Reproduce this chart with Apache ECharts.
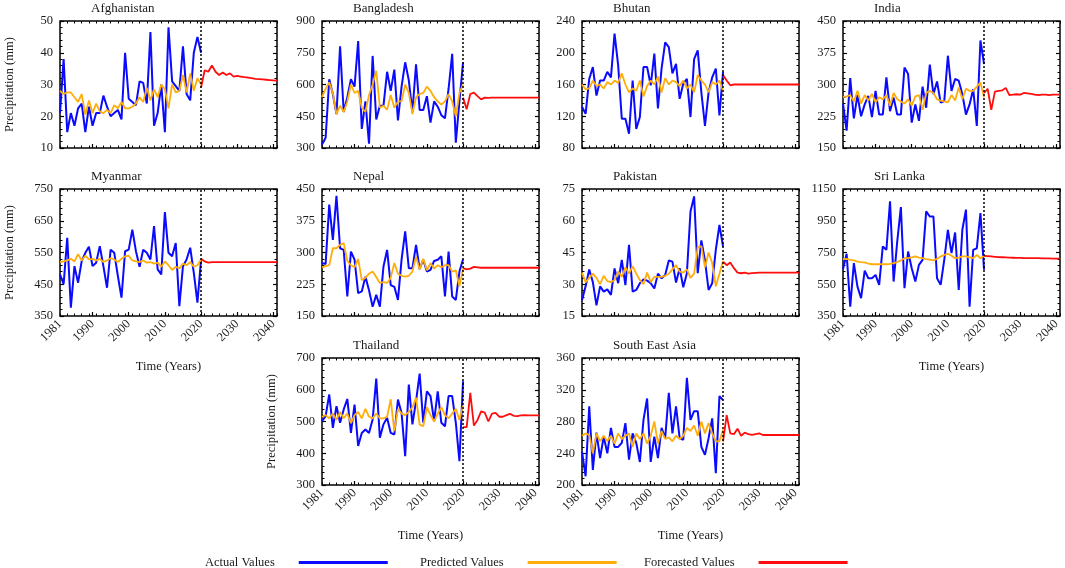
<!DOCTYPE html>
<html>
<head>
<meta charset="utf-8">
<script src="https://cdn.jsdelivr.net/npm/echarts@6/dist/echarts.min.js"></script>
<style>
html, body { margin: 0; padding: 0; background: #fff; }
#main { width: 1065px; height: 568px; }
</style>
</head>
<body>
<div id="main"></div>
<script>
// years
var actualYears = [1981,1982,1983,1984,1985,1986,1987,1988,1989,1990,1991,1992,1993,1994,1995,1996,1997,1998,1999,2000,
                   2001,2002,2003,2004,2005,2006,2007,2008,2009,2010,2011,2012,2013,2014,2015,2016,2017,2018,2019,2020];
var forecastYears = [2020,2021,2022,2023,2024,2025,2026,2027,2028,2029,2030,2031,2032,2033,2034,2035,2036,2037,2038,2039,2040,2041];
var xLabelYears = [1981, 1990, 2000, 2010, 2020, 2030, 2040];
var xMajorTicks = [1990, 2000, 2010, 2020, 2030, 2040];
var splitYear = 2020;

// Afghanistan
var afgActual = [21,38,15,21,17,22.5,24,15,23,17,21,21,26.5,23,20,21,22,19,40,25.5,24.5,23.5,31,30.5,24,46.5,17,21,30,15,48,31,29.5,28,42,27,25,40,45,40];
var afgPredicted = [28,27,27.5,27.5,26,24.5,27,20.5,25,21,24,21.5,21,22,21,23.5,22.5,24.5,22.5,22.5,23,24,26,24.5,29,25,28.5,26,30,28.5,22.5,30,27.5,28,33,27.5,33.5,28,32,30];
var afgForecast = [29,34.5,34,36,34,33,33.8,33,33.5,32.5,32.7,32.5,32.3,32.2,32,31.8,31.7,31.6,31.5,31.4,31.3,31.2];

// Bangladesh
var bgdActual = [316,348,625,555,460,780,470,540,625,590,805,390,520,320,735,435,500,500,660,570,670,430,590,705,620,470,695,480,480,545,420,520,495,455,440,580,745,325,520,705];
var bgdPredicted = [540,580,610,560,460,500,470,520,600,560,570,490,470,550,600,665,490,500,480,550,490,520,520,600,560,460,540,555,560,590,570,540,520,505,520,555,520,450,560,600];
var bgdForecast = [538,483,555,562,545,530,538,537,538,538,538,538,538,538,538,538,538,538,538,538,538,538];

// Bhutan
var btnActual = [132,123,167,182,146,165,165,176,169,224,184,117,117,98,165,104,119,182,182,159,199,130,180,213,207,174,186,142,161,167,119,192,203,150,108,150,169,180,121,176];
var btnPredicted = [160,154,155,165,158,160,155,163,160,165,162,174,160,150,155,152,165,145,158,165,160,170,150,168,160,165,163,158,165,155,160,150,172,165,160,150,163,160,165,152];
var btnForecast = [172,165,159,160,160,160,160,160,160,160,160,160,160,160,160,160,160,160,160,160,160,160];

// India
var indActual = [255,191,315,220,275,225,253,273,223,285,229,229,317,237,269,229,229,340,325,210,253,214,295,245,347,277,307,257,261,368,285,313,309,277,229,253,289,202,404,348];
var indPredicted = [270,272,275,260,285,255,275,262,278,258,270,265,275,250,280,265,260,255,265,250,272,275,240,280,285,280,265,262,260,258,275,262,293,265,290,285,285,295,305,270];
var indForecast = [280,290,240,283,285,286,292,275,276,277,276,280,279,278,276,275,276,276,275,276,276,276];

// Myanmar
var mmrActual = [481,450,596,376,507,455,523,549,568,507,518,570,507,439,559,549,476,408,554,559,622,554,505,559,549,528,633,497,481,677,549,538,580,381,507,528,565,486,392,528];
var mmrPredicted = [520,522,525,530,522,545,525,540,528,530,525,530,520,525,532,528,520,530,538,540,525,522,520,525,518,520,515,518,505,522,510,495,505,500,515,510,520,505,510,528];
var mmrForecast = [530,522,518,520,520,520,520,520,520,520,520,520,520,520,520,520,520,520,520,520,520,520];

// Nepal
var nplActual = [275,273,413,330,434,310,306,196,302,283,204,208,243,211,172,200,172,267,306,223,219,188,283,350,263,263,318,261,283,255,259,280,283,291,196,302,196,188,255,284];
var nplPredicted = [265,268,270,310,310,318,322,280,270,265,285,235,240,250,255,242,228,230,228,240,275,250,245,243,245,255,290,260,285,258,275,262,270,265,270,270,255,258,220,262];
var nplForecast = [263,260,262,266,265,264,264,264,264,264,264,264,264,264,264,264,264,264,264,264,264,264];

// Pakistan
var pakActual = [22.5,29,37,31,20,29,26.5,27.6,25,37.5,30.5,41.5,29.6,48.6,26.5,27.3,30.5,32.3,31.7,30.5,28,35,32.8,34.4,41.2,40.7,30.8,37.6,28.6,35.2,64.4,71.5,35.2,50.7,41.2,27.3,30.5,46.3,58,47.8];
var pakPredicted = [35.5,31,33,35,33,30,34,31.5,31,32,36,33.5,38,35,38.5,35,32,30,35.5,31,33.5,33.5,33.5,34,35,37,39,36,35.5,37,33,35,47.5,48,38,45,40,29,35,41];
var pakForecast = [40.7,39,40.3,37.6,35.5,35.2,35.5,35,35.3,35.4,35.5,35.5,35.5,35.5,35.5,35.5,35.5,35.5,35.5,35.5,35.5,35.5];

// Sri Lanka
var lkaActual = [645,742,409,683,535,462,636,588,588,609,546,788,767,1072,567,820,1036,525,756,651,567,672,704,1009,977,977,588,546,704,893,746,876,514,893,1020,409,767,777,998,641];
var lkaPredicted = [708,710,704,700,693,690,688,680,676,676,676,676,676,678,683,690,700,714,714,720,725,718,714,708,705,700,710,725,735,742,730,714,718,725,725,720,714,735,714,729];
var lkaForecast = [729,727,725,723,721,720,719,718,717,716,716,715,715,714,714,714,713,713,713,712,712,712];

// Thailand
var thaActual = [501,517,585,480,548,496,538,571,464,553,423,464,475,464,506,635,449,491,512,464,459,569,527,391,616,491,564,651,496,595,580,501,595,496,485,580,580,496,375,627];
var thaPredicted = [515,520,510,525,505,530,510,525,495,520,530,510,540,515,510,525,510,510,515,570,470,540,525,520,530,545,575,490,485,545,520,500,525,545,520,510,525,540,505,550];
var thaForecast = [482,482,590,487,505,532,528,500,525,527,515,515,520,524,518,517,519,520,519,519,519,519];

// South East Asia
var seaActual = [242,211,299,219,266,234,261,240,272,248,248,253,278,232,265,253,229,282,309,229,261,234,272,259,316,265,299,259,257,335,282,293,293,248,238,259,284,215,312,307];
var seaPredicted = [262,265,263,240,265,255,262,255,262,252,265,258,262,265,248,265,258,265,252,262,280,252,268,258,260,255,262,258,262,272,268,275,262,280,265,278,265,255,255,270];
var seaForecast = [255,288,265,264,271,262,266,264,263,264,265,263,263,263,263,263,263,263,263,263,263,263];

var panels = [
  { title: 'Afghanistan', actual: afgActual, predicted: afgPredicted, forecast: afgForecast, yMin: 10, yMax: 50, yStep: 10, left: 60, top: 21, yName: true, xLabels: false },
  { title: 'Bangladesh', actual: bgdActual, predicted: bgdPredicted, forecast: bgdForecast, yMin: 300, yMax: 900, yStep: 150, left: 322, top: 21, yName: false, xLabels: false },
  { title: 'Bhutan', actual: btnActual, predicted: btnPredicted, forecast: btnForecast, yMin: 80, yMax: 240, yStep: 40, left: 582, top: 21, yName: false, xLabels: false },
  { title: 'India', actual: indActual, predicted: indPredicted, forecast: indForecast, yMin: 150, yMax: 450, yStep: 75, left: 843, top: 21, yName: false, xLabels: false },
  { title: 'Myanmar', actual: mmrActual, predicted: mmrPredicted, forecast: mmrForecast, yMin: 350, yMax: 750, yStep: 100, left: 60, top: 189, yName: true, xLabels: true },
  { title: 'Nepal', actual: nplActual, predicted: nplPredicted, forecast: nplForecast, yMin: 150, yMax: 450, yStep: 75, left: 322, top: 189, yName: false, xLabels: false },
  { title: 'Pakistan', actual: pakActual, predicted: pakPredicted, forecast: pakForecast, yMin: 15, yMax: 75, yStep: 15, left: 582, top: 189, yName: false, xLabels: false },
  { title: 'Sri Lanka', actual: lkaActual, predicted: lkaPredicted, forecast: lkaForecast, yMin: 350, yMax: 1150, yStep: 200, left: 843, top: 189, yName: false, xLabels: true },
  { title: 'Thailand', actual: thaActual, predicted: thaPredicted, forecast: thaForecast, yMin: 300, yMax: 700, yStep: 100, left: 322, top: 358, yName: true, xLabels: true },
  { title: 'South East Asia', actual: seaActual, predicted: seaPredicted, forecast: seaForecast, yMin: 200, yMax: 360, yStep: 40, left: 582, top: 358, yName: false, xLabels: true }
];

var FONT = 'Liberation Serif';
var TXT = '#1a1a1a';
var BLUE = '#0a0aff', ORANGE = '#ffad0a', RED = '#ff0d0d';

function pairs(years, vals) {
  var out = [];
  for (var k = 0; k < vals.length; k++) out.push([years[k], vals[k]]);
  return out;
}
// plain numbers, no thousands separator
function plain(v) { return String(v); }

var grids = [], xAxes = [], yAxes = [], series = [], titles = [];

panels.forEach(function (p, i) {
  grids.push({ left: p.left, top: p.top, width: 217, height: 127, show: true,
               borderColor: '#000', borderWidth: 1.5, backgroundColor: 'transparent' });

  titles.push({ text: p.title, left: p.left + 31, top: p.top - 19, padding: 0,
                textStyle: { fontFamily: FONT, fontSize: 13, fontWeight: 'normal', color: TXT } });

  // bottom main axis (labels + decade ticks)
  xAxes.push({
    type: 'value', gridIndex: i, position: 'bottom', min: 1981, max: 2041,
    axisLine: { show: false },
    axisTick: { show: true, inside: true, length: 4, customValues: xMajorTicks, lineStyle: { color: '#000', width: 1.2 } },
    axisLabel: { show: p.xLabels, customValues: xLabelYears, rotate: 45, margin: 6, formatter: plain,
                 fontFamily: FONT, fontSize: 12.5, color: TXT },
    splitLine: { show: false },
    name: p.xLabels ? 'Time (Years)' : '', nameLocation: 'middle', nameGap: 44,
    nameTextStyle: { fontFamily: FONT, fontSize: 12.5, color: TXT }
  });
  // bottom minor ticks
  xAxes.push({
    type: 'value', gridIndex: i, position: 'bottom', min: 1981, max: 2041, interval: 2,
    axisLine: { show: false }, axisLabel: { show: false }, splitLine: { show: false },
    axisTick: { show: true, inside: true, length: 2.5, lineStyle: { color: '#000', width: 1 } }
  });
  // top ticks
  xAxes.push({
    type: 'value', gridIndex: i, position: 'top', min: 1981, max: 2041, interval: 2,
    axisLine: { show: false }, axisLabel: { show: false }, splitLine: { show: false },
    axisTick: { show: true, inside: true, length: 2.5, lineStyle: { color: '#000', width: 1 } }
  });

  yAxes.push({
    type: 'value', gridIndex: i, position: 'left', min: p.yMin, max: p.yMax, interval: p.yStep,
    axisLine: { show: false },
    axisTick: { show: true, inside: true, length: 4, lineStyle: { color: '#000', width: 1.2 } },
    minorTick: { show: true, splitNumber: 5, length: 2.5, lineStyle: { color: '#000', width: 1 } },
    axisLabel: { fontFamily: FONT, fontSize: 12.5, color: TXT, margin: 7, formatter: plain },
    splitLine: { show: false }, minorSplitLine: { show: false },
    name: p.yName ? 'Precipitation (mm)' : '', nameLocation: 'middle', nameGap: 44,
    nameTextStyle: { fontFamily: FONT, fontSize: 12.5, color: TXT }
  });
  yAxes.push({
    type: 'value', gridIndex: i, position: 'right', min: p.yMin, max: p.yMax, interval: p.yStep,
    axisLine: { show: false }, axisLabel: { show: false },
    axisTick: { show: true, inside: true, length: 4, lineStyle: { color: '#000', width: 1.2 } },
    minorTick: { show: true, splitNumber: 5, length: 2.5, lineStyle: { color: '#000', width: 1 } },
    splitLine: { show: false }, minorSplitLine: { show: false }
  });

  var xi = i * 3, yi = i * 2;
  series.push({
    name: 'Actual Values', type: 'line', xAxisIndex: xi, yAxisIndex: yi, showSymbol: false,
    data: pairs(actualYears, p.actual), z: 3,
    lineStyle: { color: BLUE, width: 2 }, itemStyle: { color: BLUE },
    markLine: { silent: true, symbol: ['none', 'none'], label: { show: false },
                lineStyle: { color: '#000', type: [2, 2], width: 1.5 },
                data: [{ xAxis: splitYear }] }
  });
  series.push({
    name: 'Predicted Values', type: 'line', xAxisIndex: xi, yAxisIndex: yi, showSymbol: false,
    data: pairs(actualYears, p.predicted), z: 4,
    lineStyle: { color: ORANGE, width: 1.8 }, itemStyle: { color: ORANGE }
  });
  series.push({
    name: 'Forecasted Values', type: 'line', xAxisIndex: xi, yAxisIndex: yi, showSymbol: false,
    data: pairs(forecastYears, p.forecast), z: 3,
    lineStyle: { color: RED, width: 1.8 }, itemStyle: { color: RED }
  });
});

function legendItem(name, left) {
  return {
    data: [name], left: left, top: 551, align: 'right', icon: 'rect',
    itemWidth: 89, itemHeight: 3, selectedMode: false,
    textStyle: { fontFamily: FONT, fontSize: 12.5, color: TXT, padding: [0, 19, 0, 0] }
  };
}

var option = {
  animation: false,
  backgroundColor: '#fff',
  title: titles,
  legend: [legendItem('Actual Values', 200), legendItem('Predicted Values', 415), legendItem('Forecasted Values', 639)],
  grid: grids,
  xAxis: xAxes,
  yAxis: yAxes,
  series: series
};

var myChart = echarts.init(document.getElementById('main'));
myChart.setOption(option);
</script>
</body>
</html>
